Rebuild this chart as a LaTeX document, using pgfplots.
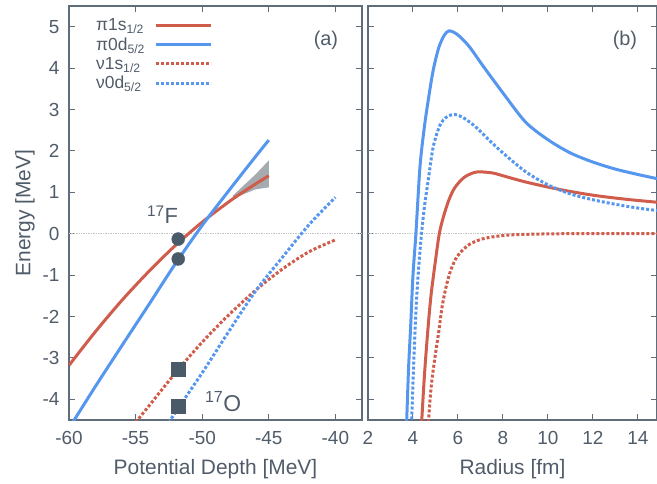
\documentclass[border=0pt]{standalone}
\usepackage{fontspec}
\setmainfont{Liberation Sans}
\usepackage{pgfplots}
\pgfplotsset{compat=1.18}
\definecolor{cred}{RGB}{208,92,76}
\definecolor{cblue}{RGB}{85,150,238}
\definecolor{cframe}{RGB}{95,108,122}
\definecolor{ctext}{RGB}{80,92,105}
\definecolor{cmark}{RGB}{75,90,105}
\definecolor{cband}{RGB}{150,156,162}
\pgfplotsset{
  myax/.style={
    scale only axis, height=414bp, ymin=-4.5, ymax=5.5,
    axis line style={cframe, line width=1.6bp},
    every tick/.style={cframe, line width=1bp},
    major tick length=6bp,
    tick align=inside,
    ytick={-4,...,5},
    font=\fontsize{21}{23}\selectfont,
    tick label style={ctext, font=\fontsize{19}{21}\selectfont},
    xticklabel style={yshift=-8bp},
    yticklabel style={xshift=-6bp},
    /pgf/number format/assume math mode=true,
    every axis x label/.style={at={(axis description cs:0.5,0)}, anchor=center, yshift=-49bp, ctext},
    every axis y label/.style={at={(axis description cs:-0.15,0.5)}, rotate=90, anchor=center, ctext},
  },
  solidred/.style={cred, line width=3bp, smooth},
  solidblue/.style={cblue, line width=3bp, smooth},
  dotred/.style={cred, line width=3bp, smooth, dash pattern=on 3bp off 2bp},
  dotblue/.style={cblue, line width=3bp, smooth, dash pattern=on 3bp off 2bp},
}
\begin{document}
\begin{tikzpicture}
\useasboundingbox (-69bp,-64bp) rectangle (588bp,420bp);
\begin{axis}[myax, width=293bp, xmin=-60, xmax=-38, xtick={-60,-55,...,-40},
  xlabel={Potential Depth [MeV]}, ylabel={Energy [MeV]},
  legend plot pos=right, legend cell align=left,
  legend image code/.code={\draw[#1] (0bp,0bp) -- (55bp,0bp);},
  legend style={at={(axis description cs:0.085,0.975)}, anchor=north west, draw=none, fill=none,
    font=\fontsize{17.5}{17.5}\selectfont, text=ctext, row sep=1.5bp, column sep=8bp, inner sep=0pt}]
\addplot[gray!45, line width=0.7bp, densely dotted, forget plot] coordinates {(-60,0) (-38,0)};
\addplot[fill=cband, draw=none, fill opacity=0.85, forget plot] coordinates {
  (-47.7,0.86) (-47,0.94) (-46,1.07) (-45,1.12) (-45,1.77) (-46,1.43) (-47,1.13) (-47.7,0.92)} -- cycle;
\addplot[solidred] coordinates {(-60,-3.18) (-58,-2.36) (-56,-1.60) (-54,-0.91) (-52,-0.28) (-50,0.28) (-48,0.77) (-47,0.99) (-46,1.20) (-45,1.40)};
\addlegendentry{π1s\textsubscript{1/2}}
\addplot[solidblue] coordinates {(-59.9,-4.65) (-58,-3.68) (-56,-2.69) (-54,-1.71) (-52,-0.72) (-50,0.20) (-48,1.04) (-46,1.86) (-45,2.26)};
\addlegendentry{π0d\textsubscript{5/2}}
\addplot[dotred] coordinates {(-55,-4.56) (-54,-4.16) (-52,-3.36) (-50,-2.62) (-48,-1.96) (-46,-1.37) (-44,-0.86) (-42,-0.44) (-40,-0.15)};
\addlegendentry{ν1s\textsubscript{1/2}}
\addplot[dotblue] coordinates {(-52.5,-4.57) (-52,-4.31) (-50,-3.36) (-48,-2.36) (-46,-1.39) (-44,-0.58) (-42,0.21) (-40,0.88)};
\addlegendentry{ν0d\textsubscript{5/2}}
\addplot[only marks, mark=*, mark size=6.5bp, cmark, forget plot] coordinates {(-51.8,-0.13) (-51.8,-0.61)};
\addplot[only marks, mark=square*, mark size=7bp, cmark, forget plot] coordinates {(-51.8,-3.28) (-51.8,-4.17)};
\node[anchor=base west, font=\fontsize{22}{22}\selectfont, text=ctext] at (axis cs:-54.4,0.24) {\textsuperscript{17}F};
\node[anchor=base west, font=\fontsize{23}{23}\selectfont, text=ctext] at (axis cs:-50.05,-4.30) {\textsuperscript{17}O};
\node[font=\fontsize{20}{20}\selectfont, text=ctext] at (rel axis cs:0.877,0.918) {(a)};
\end{axis}
\begin{axis}[myax, at={(299bp,0bp)}, width=289bp, xmin=2, xmax=14.85, xtick={2,4,...,14},
  yticklabels={}, xlabel={Radius [fm]}]
\addplot[gray!45, line width=0.7bp, densely dotted] coordinates {(2,0) (15,0)};
\addplot[solidred] coordinates {(4.36,-4.8) (4.5,-3.5) (4.65,-2.4) (4.8,-1.5) (5.0,-0.65) (5.17,0) (5.35,0.4) (5.6,0.82) (5.87,1.12) (6.3,1.37) (6.83,1.49) (7.5,1.47) (7.87,1.42) (9,1.25) (10.5,1.07) (12,0.93) (13.5,0.83) (14.85,0.76)};
\addplot[solidblue] coordinates {(3.70,-4.85) (3.8,-3.3) (3.9,-2.2) (4.0,-1.0) (4.13,0) (4.31,1.61) (4.5,2.55) (4.68,3.23) (4.9,3.95) (5.15,4.5) (5.4,4.8) (5.62,4.9) (6.0,4.80) (6.5,4.52) (7.13,4.04) (8.0,3.40) (9,2.70) (10,2.27) (11,1.95) (12,1.73) (13,1.56) (14,1.43) (14.85,1.33)};
\addplot[dotred] coordinates {(4.66,-4.8) (4.76,-4.0) (4.85,-3.5) (5.0,-2.9) (5.13,-2.43) (5.3,-1.75) (5.5,-1.22) (5.7,-0.85) (5.94,-0.57) (6.2,-0.40) (6.53,-0.25) (7.0,-0.14) (7.5,-0.08) (8.3,-0.03) (9.5,-0.01) (11,0) (14.85,0)};
\addplot[dotblue] coordinates {(3.92,-4.85) (4.0,-3.6) (4.08,-2.5) (4.17,-1.5) (4.27,-0.7) (4.38,0) (4.52,0.7) (4.68,1.3) (4.9,2.1) (5.2,2.62) (5.5,2.82) (5.87,2.88) (6.3,2.78) (6.83,2.56) (7.5,2.2) (8,1.95) (9,1.50) (10,1.18) (11,0.96) (12,0.82) (13,0.71) (14,0.62) (14.85,0.56)};
\node[font=\fontsize{20}{20}\selectfont, text=ctext] at (rel axis cs:0.889,0.918) {(b)};
\end{axis}
\end{tikzpicture}
\end{document}
